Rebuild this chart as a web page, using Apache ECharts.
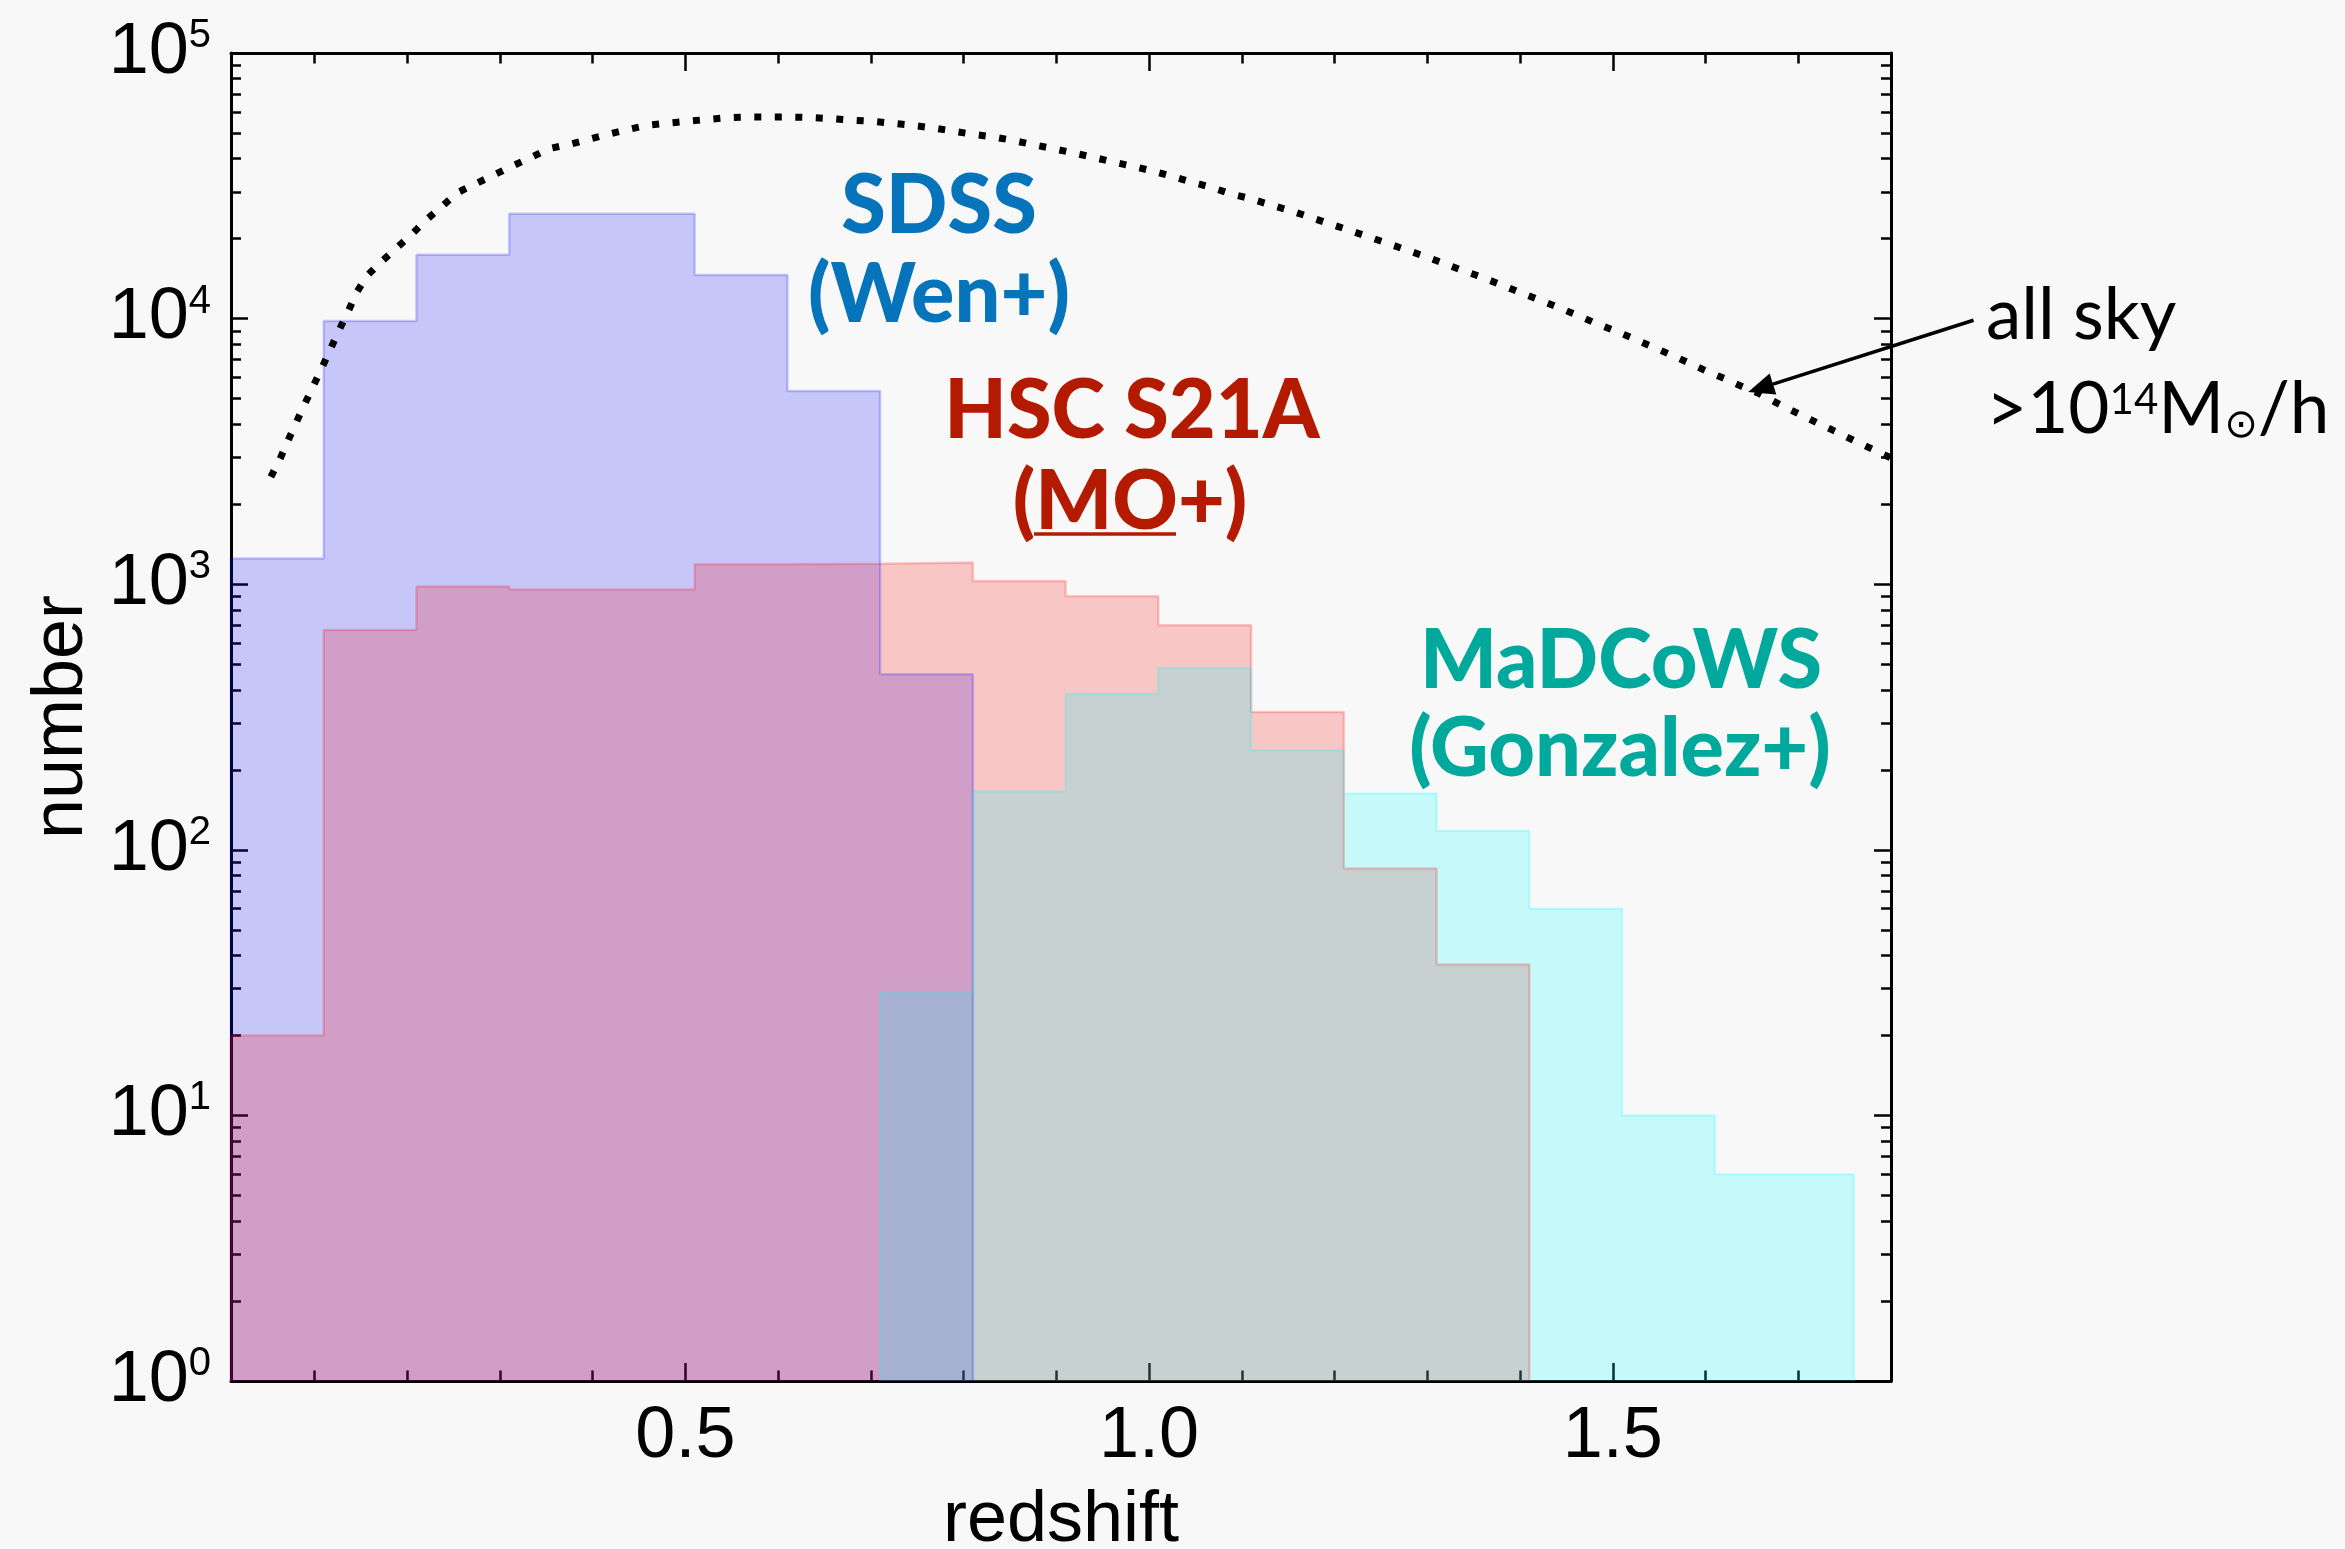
<!DOCTYPE html>
<html><head><meta charset="utf-8">
<script src="https://cdn.jsdelivr.net/npm/echarts@6/dist/echarts.min.js"></script>
<style>html,body{margin:0;padding:0;background:#f8f8f8;}#c{width:2345px;height:1549px;}</style>
</head><body><div id="c"></div>
<script>
// ---------------- data ----------------
const sdssEdges = [0.01, 0.11, 0.21, 0.31, 0.41, 0.51, 0.61, 0.71, 0.81];
const sdssCounts = [1250, 9800, 17400, 24800, 24800, 14600, 5340, 458];

const hscEdges = [0.01, 0.11, 0.21, 0.31, 0.41, 0.51, 0.61, 0.71, 0.81, 0.91, 1.01, 1.11, 1.21, 1.31, 1.41];
const hscCounts = [20, 673, 980, 955, 955, 1190, 1195, 1208, 1028, 900, 700, 330, 85, 37];

const madEdges = [0.71, 0.81, 0.91, 1.01, 1.11, 1.21, 1.31, 1.41, 1.51, 1.61, 1.76];
const madCounts = [29, 166, 387, 484, 237, 163, 118, 60, 10, 6];

const skyZ = [0.053,0.063,0.072,0.081,0.090,0.0997,0.109,0.118,0.127,0.1366,0.1456,0.157,0.173,0.189,0.2056,0.221,0.238,0.254,0.274,0.294,0.3136,0.333,0.353,0.375,0.396,0.417,0.438,0.459,0.481,0.503,0.524,0.547,0.570,0.591,0.613,0.635,0.657,0.679,0.700,0.722,0.744,0.7665,0.788,0.81,0.832,0.853,0.875,0.896,0.917,0.939,0.961,0.983,1.0035,1.0244,1.046,1.0656,1.087,1.109,1.129,1.151,1.171,1.192,1.213,1.234,1.255,1.2754,1.296,1.317,1.3375,1.358,1.379,1.399,1.419,1.44,1.46,1.48,1.501,1.521,1.541,1.561,1.582,1.6007,1.6204,1.639,1.658,1.680,1.700,1.72,1.7397,1.7594,1.78,1.80];
const skyN = [2535,2972,3508,4111,4808,5662,6637,7780,9120,10690,12560,14555,16480,18490,20890,23600,26550,29790,32210,34830,37580,40360,43650,45290,47320,49430,51520,53460,54450,55340,56230,57150,57410,57410,57410,57150,56620,55850,55340,54450,53460,52240,50820,49430,48310,46880,45190,43650,42170,40550,38900,37410,35970,34360,32660,31300,29580,28310,26920,25590,24270,22910,21680,20460,19320,18240,17220,16180,15210,14350,13430,12590,11830,11070,10350,9660,9040,8450,7870,7350,6810,6353,5943,5559,5220,4750,4390,4055,3767,3483,3221,2985];

const xMajorTicks = [0.5, 1.0, 1.5];
const xMinorTicks = [0.1,0.2,0.3,0.4,0.6,0.7,0.8,0.9,1.1,1.2,1.3,1.4,1.6,1.7];
const yMajorTicks = [1, 10, 100, 1000, 10000, 100000];
const yMinorTicks = [2,3,4,5,6,7,8,9,20,30,40,50,60,70,80,90,200,300,400,500,600,700,800,900,2000,3000,4000,5000,6000,7000,8000,9000,20000,30000,40000,50000,60000,70000,80000,90000];

// annotation arrow (data coordinates)
const arrowTail = [1.889, 9860];
const arrowHead = [1.646, 5294];

// ---------------- helpers ----------------
function stepPoints(edges, counts) {
  const pts = [[edges[0], 1]];
  for (let i = 0; i < counts.length; i++) pts.push([edges[i], counts[i]]);
  pts.push([edges[edges.length - 1], counts[counts.length - 1]]);
  pts.push([edges[edges.length - 1], 1]);
  return pts;
}
const skyData = skyZ.map((z, i) => [z, skyN[i]]);

const AX_FONT = "'Liberation Sans', Arial, sans-serif";
const LBL_FONT = "Lato, 'Open Sans', sans-serif";
const axisLine = { show: true, onZero: false, lineStyle: { color: '#000', width: 3 } };
const noLine = { show: false, onZero: false };

function xAx(pos, ticks, len, major, labels) {
  return {
    type: 'value', min: 0.01, max: 1.8, position: pos,
    axisLine: major ? axisLine : noLine,
    axisTick: { show: true, inside: true, length: len, customValues: ticks, lineStyle: { color: '#000', width: 2.5 } },
    axisLabel: labels ? { show: true, customValues: ticks, formatter: v => v.toFixed(1), fontSize: 72, fontFamily: AX_FONT, color: '#000', margin: 20 } : { show: false },
    splitLine: { show: false }
  };
}
function yAx(pos, ticks, len, major, labels) {
  return {
    type: 'log', logBase: 10, min: 1, max: 100000, position: pos,
    axisLine: major ? axisLine : noLine,
    axisTick: { show: true, inside: true, length: len, customValues: ticks, lineStyle: { color: '#000', width: 2.5 } },
    axisLabel: labels ? {
      show: true, customValues: ticks, margin: 20,
      formatter: v => '{b|10}{s|' + Math.round(Math.log10(v)) + '}',
      rich: {
        b: { fontSize: 72, fontFamily: AX_FONT, color: '#000' },
        s: { fontSize: 40, fontFamily: AX_FONT, color: '#000', padding: [0, 0, 34, 0] }
      }
    } : { show: false },
    splitLine: { show: false }
  };
}

const xAxes = [
  xAx('bottom', xMajorTicks, 18, true, true),
  xAx('bottom', xMinorTicks, 10.5, false, false),
  xAx('top', xMajorTicks, 18, true, false),
  xAx('top', xMinorTicks, 10.5, false, false)
];
Object.assign(xAxes[0], { name: 'redshift', nameLocation: 'middle', nameGap: 104,
  nameTextStyle: { fontSize: 72, fontFamily: AX_FONT, color: '#000' } });

const yAxes = [
  yAx('left', yMajorTicks, 17, true, true),
  yAx('left', yMinorTicks, 10, false, false),
  yAx('right', yMajorTicks, 17, true, false),
  yAx('right', yMinorTicks, 10, false, false)
];
Object.assign(yAxes[0], { name: 'number', nameLocation: 'middle', nameGap: 132, nameRotate: 90,
  nameTextStyle: { fontSize: 72, fontFamily: AX_FONT, color: '#000' } });

function histSeries(name, edges, counts, color) {
  return {
    name, type: 'line', step: 'end', xAxisIndex: 0, yAxisIndex: 0,
    data: stepPoints(edges, counts), symbol: 'none', silent: true,
    lineStyle: { color, width: 2.5, opacity: 0.2 },
    areaStyle: { color, opacity: 0.2, origin: 'start' }
  };
}

const option = {
  backgroundColor: '#f8f8f8',
  animation: false,
  grid: { left: 231, right: 454, top: 53, bottom: 168, containLabel: false, outerBoundsMode: 'none' },
  xAxis: xAxes,
  yAxis: yAxes,
  series: [
    histSeries('SDSS (Wen+)', sdssEdges, sdssCounts, '#0000ff'),
    histSeries('HSC S21A (MO+)', hscEdges, hscCounts, '#ff0000'),
    histSeries('MaDCoWS (Gonzalez+)', madEdges, madCounts, '#00ffff'),
    {
      name: 'all sky', type: 'line', xAxisIndex: 0, yAxisIndex: 0, data: skyData,
      symbol: 'none', silent: true, z: 5,
      lineStyle: { color: '#000', width: 7, type: [7, 13.5], cap: 'butt' }
    }
  ]
};

const chart = echarts.init(document.getElementById('c'), null, { renderer: 'canvas' });
chart.setOption(option);

// annotations
const p0 = chart.convertToPixel({ gridIndex: 0 }, arrowTail);
const p1 = chart.convertToPixel({ gridIndex: 0 }, arrowHead);
const dx = p1[0] - p0[0], dy = p1[1] - p0[1];
const L = Math.hypot(dx, dy), ux = dx / L, uy = dy / L;
const headLen = 26, headW = 11;
const bx = p1[0] - ux * headLen, by = p1[1] - uy * headLen;

const boldText = (text, x, y, color) => ({
  type: 'text', z: 100, silent: true,
  style: { text, x, y, fill: color, fontSize: 81, fontWeight: 900, fontFamily: LBL_FONT, align: 'center', verticalAlign: 'middle' }
});

chart.setOption({
  graphic: [
    boldText('SDSS', 939, 207, '#0574ba'),
    boldText('(Wen+)', 939, 296, '#0574ba'),
    boldText('HSC S21A', 1132, 412, '#b41a00'),
    boldText('(MO+)', 1130, 503, '#b41a00'),
    { type: 'line', z: 100, silent: true, shape: { x1: 1034, y1: 534, x2: 1176, y2: 534 }, style: { stroke: '#b41a00', lineWidth: 3.5 } },
    boldText('MaDCoWS', 1621, 662, '#00a99b'),
    boldText('(Gonzalez+)', 1620, 750, '#00a99b'),
    { type: 'text', z: 100, silent: true,
      style: { text: 'all sky', x: 1986, y: 316, fill: '#000', fontSize: 71, fontFamily: LBL_FONT, align: 'left', verticalAlign: 'middle' } },
    { type: 'text', z: 100, silent: true,
      style: { text: '{a|>10}{s|14}{a|M}{o|⊙}{a|/h}', x: 1986, y: 410, align: 'left', verticalAlign: 'middle',
        rich: {
          a: { fontSize: 71, fontFamily: LBL_FONT, color: '#000' },
          s: { fontSize: 42, fontFamily: LBL_FONT, color: '#000', padding: [0, 0, 20, 0] },
          o: { fontSize: 40, fontFamily: "'DejaVu Sans', sans-serif", color: '#000', padding: [34, 0, 0, 0] }
        } } },
    { type: 'line', z: 100, silent: true, shape: { x1: p0[0], y1: p0[1], x2: bx, y2: by }, style: { stroke: '#000', lineWidth: 3.5 } },
    { type: 'polygon', z: 100, silent: true,
      shape: { points: [[p1[0], p1[1]], [bx - uy * headW, by + ux * headW], [bx + uy * headW, by - ux * headW]] },
      style: { fill: '#000' } }
  ]
});
</script>
</body></html>
